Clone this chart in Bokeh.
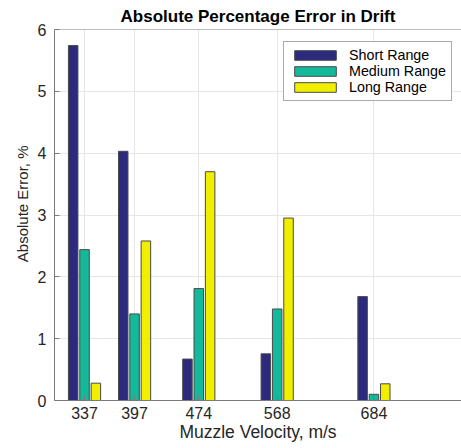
from bokeh.plotting import figure
from bokeh.models import Range1d, FixedTicker, ColumnDataSource, Legend, LegendItem, Span, Title
from bokeh.transform import dodge
from bokeh.embed import file_html
from bokeh.resources import INLINE

velocities = [337, 397, 474, 568, 684]
short_range = [5.74, 4.03, 0.67, 0.755, 1.68]
medium_range = [2.44, 1.40, 1.81, 1.48, 0.10]
long_range = [0.28, 2.58, 3.70, 2.95, 0.27]
series_names = ["Short Range", "Medium Range", "Long Range"]
series_colors = ["#2C2A7C", "#14B89B", "#F2EE00"]
y_ticks = [0, 1, 2, 3, 4, 5, 6]

FONT = "Liberation Sans"
TXT = "#262626"

src = ColumnDataSource(dict(v=velocities, s=short_range, m=medium_range, l=long_range))

p = figure(width=461, height=448, output_backend="svg", toolbar_location=None,
           x_range=Range1d(301, 789), y_range=Range1d(0, 6),
           min_border_left=54, min_border_right=0, min_border_top=29, min_border_bottom=48)

p.title.text = "Absolute Percentage Error in Drift"
p.title.align = "center"
p.title.text_font = FONT
p.title.text_font_size = "17px"
p.title.text_font_style = "bold"
p.title.text_color = "#000000"
p.title.standoff = 7
p.title.offset = 5

offs = [-13.6, 0.0, 13.6]
bw = 11.4
renderers = []
for col, off, c in zip(["s", "m", "l"], offs, series_colors):
    r = p.vbar(x=dodge("v", off, range=p.x_range), top=col, width=bw, bottom=0, source=src,
               fill_color=c, line_color="#4a4a4a", line_width=1)
    renderers.append(r)

p.outline_line_color = None
p.add_layout(Span(location=6, dimension="width", line_color="#7a7a7a", line_width=1))

p.xaxis.ticker = FixedTicker(ticks=velocities)
p.yaxis.ticker = FixedTicker(ticks=y_ticks)
for ax in (p.xaxis[0], p.yaxis[0]):
    ax.major_tick_in = 5
    ax.major_tick_out = 0
    ax.minor_tick_in = 0
    ax.minor_tick_out = 0
    ax.axis_line_color = "#7a7a7a"
    ax.major_tick_line_color = "#7a7a7a"
    ax.major_label_text_font = FONT
    ax.major_label_text_font_size = "16px"
    ax.major_label_text_color = TXT
    ax.axis_label_text_font = FONT
    ax.axis_label_text_font_style = "normal"
    ax.axis_label_text_color = TXT

p.xaxis.axis_label = "Muzzle Velocity, m/s"
p.xaxis.axis_label_text_font_size = "17.5px"
p.xaxis.major_label_standoff = 6
p.xaxis.axis_label_standoff = 0
p.yaxis.major_label_standoff = 8

ylab = Title(text="Absolute Error, %", align="right", offset=116, standoff=8,
             text_font=FONT, text_font_size="15px", text_font_style="normal", text_color=TXT)
p.add_layout(ylab, "left")

p.xgrid.grid_line_color = "#e6e6e6"
p.ygrid.grid_line_color = "#e6e6e6"
p.xgrid.ticker = FixedTicker(ticks=velocities)
p.ygrid.ticker = FixedTicker(ticks=y_ticks)

legend = Legend(items=[LegendItem(label=n, renderers=[r]) for n, r in zip(series_names, renderers)],
                location=(229, 299))
legend.glyph_width = 52
legend.glyph_height = 12
legend.label_height = 16
legend.spacing = 0
legend.padding = 5
legend.margin = 0
legend.label_standoff = 8
legend.label_text_font = FONT
legend.label_text_font_size = "14.3px"
legend.label_text_color = "#000000"
legend.border_line_color = "#555555"
legend.border_line_width = 1
legend.background_fill_alpha = 1
p.add_layout(legend)

open("out.html", "w").write(file_html(p, INLINE))
